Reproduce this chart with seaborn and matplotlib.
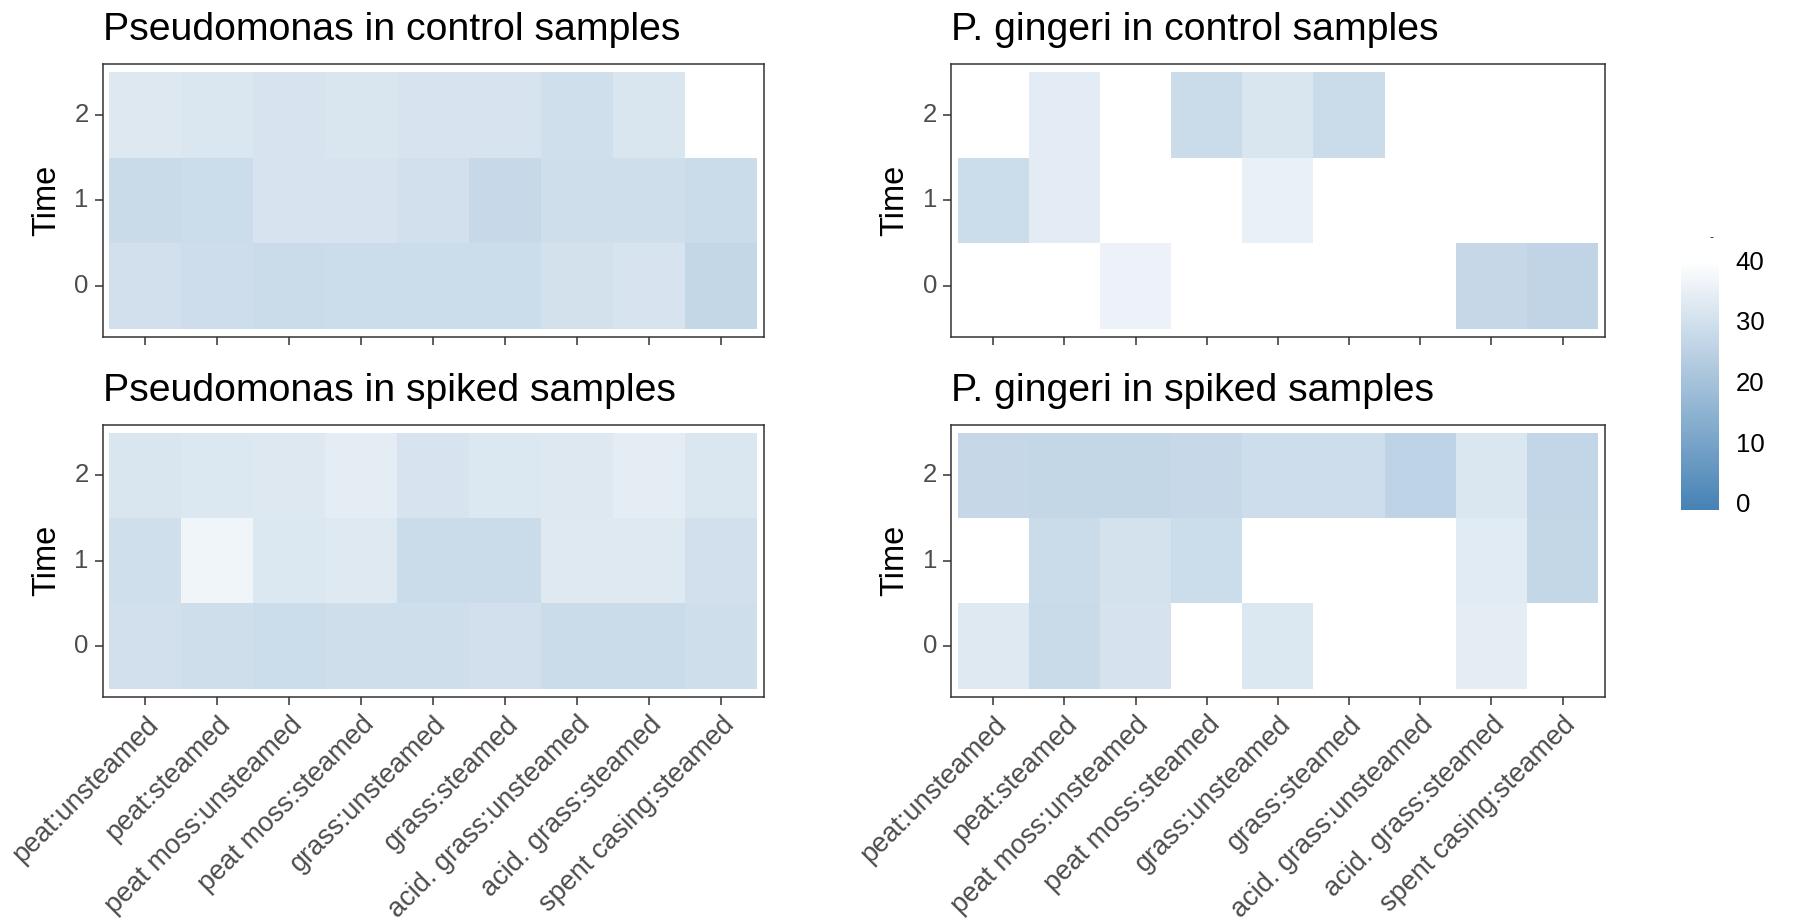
import numpy as np
import pandas as pd
import seaborn as sns
import matplotlib
matplotlib.use("Agg")
import matplotlib.pyplot as plt
from matplotlib.colors import LinearSegmentedColormap
from matplotlib.transforms import ScaledTranslation

# Treatments (x axis) and sampling times (y axis)
treatments = [
    "peat:unsteamed", "peat:steamed", "peat moss:unsteamed", "peat moss:steamed",
    "grass:unsteamed", "grass:steamed", "acid. grass:unsteamed",
    "acid. grass:steamed", "spent casing:steamed",
]
times = [0, 1, 2]
nan = np.nan

# Ct values per time point (rows: time 0, 1, 2)
pseudo_control_t0 = [29.8, 28.8, 28.2, 28.5, 28.5, 28.5, 30.1, 31.0, 26.9]
pseudo_control_t1 = [27.8, 28.5, 31.0, 31.0, 29.8, 27.5, 29.1, 29.1, 28.2]
pseudo_control_t2 = [32.3, 31.7, 31.0, 31.4, 31.0, 31.0, 29.4, 31.4, nan]

pseudo_spiked_t0 = [29.8, 29.1, 28.5, 29.1, 29.1, 29.8, 28.2, 28.2, 29.1]
pseudo_spiked_t1 = [29.4, 36.5, 32.0, 32.6, 28.2, 28.2, 32.6, 32.6, 29.8]
pseudo_spiked_t2 = [31.4, 32.0, 32.3, 33.9, 31.0, 32.0, 32.3, 33.9, 31.7]

ging_control_t0 = [nan, nan, 35.8, nan, nan, nan, nan, 27.2, 25.9]
ging_control_t1 = [28.5, 33.6, nan, nan, 35.2, nan, nan, nan, nan]
ging_control_t2 = [nan, 33.6, nan, 28.2, 31.4, 28.2, nan, nan, nan]

ging_spiked_t0 = [32.6, 27.8, 30.7, nan, 32.0, nan, nan, 33.9, nan]
ging_spiked_t1 = [nan, 28.2, 30.4, 28.5, nan, nan, nan, 33.3, 26.9]
ging_spiked_t2 = [27.2, 26.9, 26.9, 27.5, 28.8, 28.8, 25.6, 31.7, 26.6]

titles = [
    "Pseudomonas in control samples",
    "P. gingeri in control samples",
    "Pseudomonas in spiked samples",
    "P. gingeri in spiked samples",
]
cbar_ticks = [0, 10, 20, 30, 40]


def frame(t0, t1, t2):
    # top row is the latest time point
    return pd.DataFrame([t2, t1, t0], index=times[::-1], columns=treatments)


panels = [
    frame(pseudo_control_t0, pseudo_control_t1, pseudo_control_t2),
    frame(ging_control_t0, ging_control_t1, ging_control_t2),
    frame(pseudo_spiked_t0, pseudo_spiked_t1, pseudo_spiked_t2),
    frame(ging_spiked_t0, ging_spiked_t1, ging_spiked_t2),
]

sns.set_style("white")
plt.rcParams["font.family"] = ["Liberation Sans", "DejaVu Sans"]

cmap = LinearSegmentedColormap.from_list("blue_white", ["#4682B4", "#FFFFFF"])

W, H = 1793, 922
fig = plt.figure(figsize=(W / 100, H / 100), dpi=100)


def box(x0, y0, x1, y1):
    return [x0 / W, 1 - y1 / H, (x1 - x0) / W, (y1 - y0) / H]


axes = [
    fig.add_axes(box(102.6, 64.0, 763.8, 336.7)),
    fig.add_axes(box(950.8, 64.0, 1605.0, 336.7)),
    fig.add_axes(box(102.6, 424.7, 763.8, 696.7)),
    fig.add_axes(box(950.8, 424.7, 1605.0, 696.7)),
]
cax = fig.add_axes(box(1681, 260, 1719, 510))

vmin, vmax = -1.2, 40
pad = 0.095
tick_color = "#333333"
label_color = "#4d4d4d"

for i, (ax, df, title) in enumerate(zip(axes, panels, titles)):
    sns.heatmap(
        df, ax=ax, cmap=cmap, vmin=vmin, vmax=vmax,
        cbar=(i == 0), cbar_ax=cax if i == 0 else None,
        linewidths=0,
    )
    ax.set_xlim(-pad, df.shape[1] + pad)
    ax.set_ylim(df.shape[0] + pad, -pad)
    for s in ax.spines.values():
        s.set_visible(True)
        s.set_color("#333333")
        s.set_linewidth(1.1)
    ax.tick_params(axis="both", which="both", length=5.5, width=1.1,
                   color=tick_color, labelcolor=label_color,
                   labelsize=18.5, pad=4.5, bottom=True, left=True)
    ax.set_yticks(np.arange(df.shape[0]) + 0.5)
    ax.set_yticklabels([str(t) for t in df.index], rotation=0)
    ax.set_xticks(np.arange(df.shape[1]) + 0.5)
    if i >= 2:
        ax.set_xticklabels(treatments, rotation=45, ha="right", va="top",
                           rotation_mode="anchor", fontsize=19.5)
        off = ScaledTranslation(0, -1 / 100, fig.dpi_scale_trans)
        for lab in ax.get_xticklabels():
            lab.set_transform(lab.get_transform() + off)
    else:
        ax.set_xticklabels([])
    ax.set_xlabel("")
    ax.set_ylabel("Time", fontsize=23.5, color="black", labelpad=9)
    ax.set_title(title, loc="left", fontsize=28.3, pad=17, color="black")

cbar = axes[0].collections[0].colorbar
cbar.set_ticks(cbar_ticks)
cbar.outline.set_visible(False)
cbar.ax.tick_params(direction="in", colors="white", length=8, width=1.2,
                    left=True, right=True, labelleft=False, labelright=True,
                    labelcolor="black", labelsize=18.5, pad=12)
fig.text(1711 / W, 1 - 238 / H, "-", fontsize=9, ha="center", va="center")

fig.savefig("out.png", dpi=100, facecolor="white")
